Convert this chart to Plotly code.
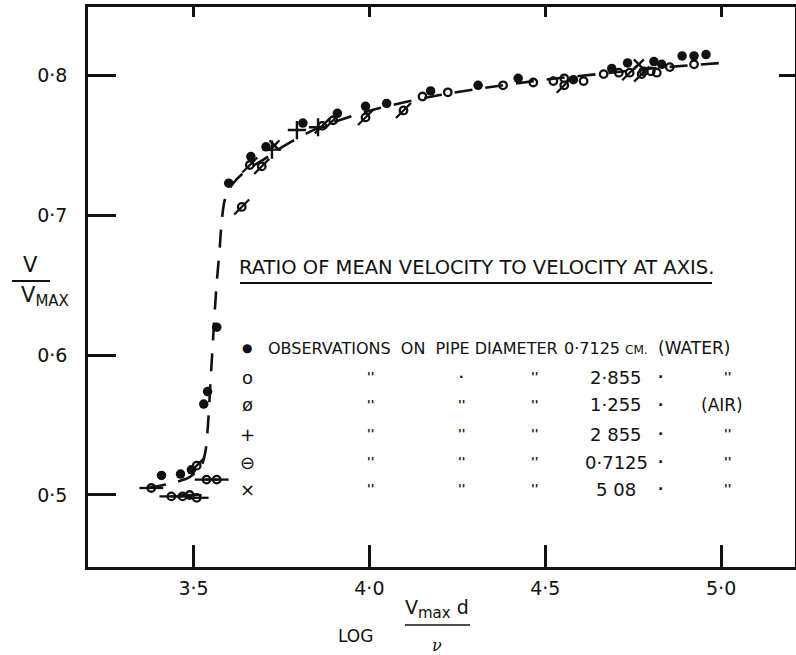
import plotly.graph_objects as go

# ---------------- data ----------------
# Water, pipe diameter 0.7125 cm  (filled circles)
w0712_x = [3.409, 3.463, 3.494, 3.529, 3.540, 3.566, 3.600, 3.663, 3.706, 3.811,
           3.909, 3.989, 4.049, 4.174, 4.309, 4.423, 4.580, 4.689, 4.734, 4.809,
           4.831, 4.889, 4.923, 4.957]
w0712_y = [0.514, 0.515, 0.518, 0.565, 0.574, 0.620, 0.723, 0.742, 0.749, 0.766,
           0.773, 0.778, 0.780, 0.789, 0.793, 0.798, 0.797, 0.805, 0.809, 0.810,
           0.808, 0.814, 0.814, 0.815]
# Water, 2.855 cm (open circles)
w2855_x = [4.151, 4.223, 4.380, 4.466, 4.523, 4.554, 4.609, 4.666, 4.709, 4.780,
           4.800, 4.817, 4.854, 4.923]
w2855_y = [0.785, 0.788, 0.793, 0.795, 0.796, 0.798, 0.796, 0.801, 0.802, 0.803,
           0.803, 0.802, 0.806, 0.808]
# Air, 1.255 cm (phi)
a1255_x = [3.509, 3.637, 3.660, 3.694, 3.866, 3.897, 3.989, 4.097, 4.554, 4.740, 4.774]
a1255_y = [0.521, 0.706, 0.736, 0.735, 0.764, 0.768, 0.770, 0.775, 0.793, 0.802, 0.801]
# Air, 2.855 cm (plus)
a2855_x = [3.723, 3.794, 3.854]
a2855_y = [0.747, 0.761, 0.763]
# Air, 0.7125 cm (circle with bar)
a0712_x = [3.380, 3.437, 3.469, 3.489, 3.509, 3.537, 3.566]
a0712_y = [0.505, 0.499, 0.499, 0.500, 0.498, 0.511, 0.511]
# Air, 5.08 cm (cross)
a508_x = [3.730, 4.766]
a508_y = [0.750, 0.808]
# fitted curve
curve_x = [3.37, 3.43, 3.49, 3.52, 3.533, 3.541, 3.548, 3.554, 3.560, 3.567, 3.574,
           3.580, 3.590, 3.61, 3.65, 3.70, 3.76, 3.85, 3.95, 4.05, 4.2, 4.35, 4.5,
           4.65, 4.8, 5.0]
curve_y = [0.505, 0.508, 0.513, 0.520, 0.530, 0.550, 0.580, 0.605, 0.630, 0.655, 0.675,
           0.695, 0.712, 0.722, 0.732, 0.740, 0.750, 0.762, 0.771, 0.778, 0.786, 0.792,
           0.797, 0.801, 0.805, 0.809]

x_ticks = [3.5, 4.0, 4.5, 5.0]
x_tick_labels = ["3·5", "4·0", "4·5", "5·0"]
y_ticks = [0.5, 0.6, 0.7, 0.8]
y_tick_labels = ["0·5", "0·6", "0·7", "0·8"]
y_right_ticks = [0.8]

title_text = "RATIO OF MEAN VELOCITY TO VELOCITY AT AXIS."
legend_symbols = ["●", "o", "ø", "+", "⊖", "×"]
legend_diam = ["0·7125", "2·855", "1·255", "2 855", "0·7125", "5 08"]
legend_fluid = ["(WATER)", "''", "(AIR)", "''", "''", "''"]
legend_head = "OBSERVATIONS  ON  PIPE DIAMETER"

# ---------------- figure ----------------
W, H = 796, 655
L, R, T, B = 88, 1, 7, 88
FONT = "DejaVu Sans"
INK = "#111111"

fig = go.Figure()

fig.add_trace(go.Scatter(x=curve_x, y=curve_y, mode="lines",
                         line=dict(color=INK, width=2.6, dash="18px,13px"),
                         line_shape="spline", hoverinfo="skip"))

def pts(x, y, symbol, size, lw=2.0, **kw):
    fig.add_trace(go.Scatter(x=x, y=y, mode="markers",
                             marker=dict(symbol=symbol, size=size, color=INK,
                                         line=dict(color=INK, width=lw)), **kw))

pts(w0712_x, w0712_y, "circle", 9.5, 0)
pts(w2855_x, w2855_y, "circle-open", 7.5, 2.3)
pts(a1255_x, a1255_y, "circle-open", 7.5, 2.3)
pts(a1255_x, a1255_y, "line-ne", 15, 2.3)
pts(a2855_x, a2855_y, "cross-thin-open", 13, 2.4)
pts(a0712_x, a0712_y, "circle-open", 7.5, 2.3)
pts(a0712_x, a0712_y, "line-ew", 17, 2.3)
pts(a508_x, a508_y, "x-thin-open", 10, 2.4)
# invisible carrier traces for the secondary (top / right) tick axes
pts(curve_x[:1], curve_y[:1], "circle", 1, 0, xaxis="x2", yaxis="y", opacity=0)
pts(curve_x[:1], curve_y[:1], "circle", 1, 0, xaxis="x", yaxis="y2", opacity=0)

def px(xp):
    return (xp - L) / (W - L - R)

def py(yp):
    return (H - B - yp) / (H - T - B)

ann = []
shapes = []

def text(x, y, s, size=16, anchor="left", family=FONT):
    ann.append(dict(x=px(x), y=py(y), xref="paper", yref="paper", text=s,
                    showarrow=False, xanchor=anchor, yanchor="middle",
                    font=dict(family=family, size=size, color=INK)))

def hline(x0, x1, y, w=1.6):
    shapes.append(dict(type="line", xref="paper", yref="paper",
                       x0=px(x0), x1=px(x1), y0=py(y), y1=py(y),
                       line=dict(color=INK, width=w)))

DITTO = "<b>''</b>"

# title inside plot
text(476, 267, title_text, 19.5, "center")
hline(240, 712, 283, 1.8)

# legend table
row_y = [348, 377, 405, 434, 462, 489]
for r in range(6):
    yy = row_y[r]
    sym = legend_symbols[r]
    text(247, yy, sym, 12 if sym == "●" else 18, "center")
    if r == 0:
        text(266, yy, legend_head, 16, "left")
        text(562, yy, legend_diam[r] + " <span style='font-size:12px'>CM.</span>", 16, "left")
        text(656, yy, legend_fluid[r], 17, "left")
    else:
        text(370, yy, DITTO, 12, "center")
        text(462, yy, DITTO if r > 1 else "<b>·</b>", 12, "center")
        text(534, yy, DITTO, 12, "center")
        text(616, yy, legend_diam[r], 18, "center")
        text(660, yy, "<b>·</b>", 14, "center")
        if legend_fluid[r] == "''":
            text(727, yy, DITTO, 12, "center")
        else:
            text(722, yy, legend_fluid[r], 17, "center")

# y axis title (fraction)
text(30, 265, "V", 21, "center")
hline(12, 50, 281, 1.8)
text(45, 297, "V<sub><span style='font-size:15px'>MAX</span></sub>", 21, "center")

# x axis title
text(355, 636, "LOG", 17, "center")
text(437, 609, "V<sub><span style='font-size:15px'>max</span></sub> d", 19, "center")
hline(405, 470, 625, 1.4)
text(437, 645, "<i>ν</i>", 16, "center", "DejaVu Serif")

axis_common = dict(showgrid=False, zeroline=False, showline=True, linecolor=INK,
                   linewidth=2.6, ticks="inside", tickcolor=INK, tickwidth=2.6,
                   mirror=True, automargin=False,
                   tickfont=dict(family=FONT, size=19, color=INK))

fig.update_layout(
    width=W, height=H,
    margin=dict(l=L, r=R, t=T, b=B, autoexpand=False),
    paper_bgcolor="white", plot_bgcolor="white",
    showlegend=False,
    xaxis=dict(range=[3.2, 5.21], tickvals=x_ticks, ticktext=x_tick_labels,
               ticklen=22, ticklabelstandoff=2, **axis_common),
    yaxis=dict(range=[0.4485, 0.849], tickvals=y_ticks, ticktext=y_tick_labels,
               ticklen=28, ticklabelstandoff=14, **axis_common),
    xaxis2=dict(overlaying="x", side="top", matches="x", tickvals=x_ticks,
                ticks="inside", ticklen=10, tickwidth=2.6, tickcolor=INK,
                showticklabels=False, showgrid=False, zeroline=False, showline=False),
    yaxis2=dict(overlaying="y", side="right", matches="y", tickvals=y_right_ticks,
                ticks="inside", ticklen=16, tickwidth=2.6, tickcolor=INK,
                showticklabels=False, showgrid=False, zeroline=False, showline=False),
    annotations=ann, shapes=shapes,
)

fig.write_html("out.html", config={"displayModeBar": False},
               post_script="document.body.style.margin='0';")
